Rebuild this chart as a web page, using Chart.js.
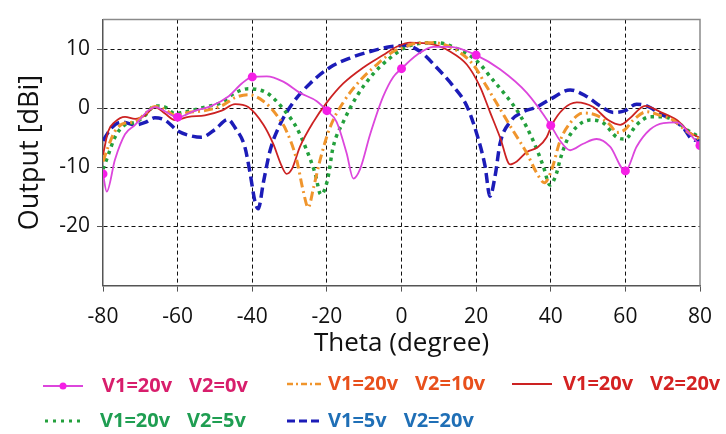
<!DOCTYPE html>
<html>
<head>
<meta charset="utf-8">
<script src="https://cdn.jsdelivr.net/npm/chart.js@4.4.1/dist/chart.umd.min.js"></script>
<style>
  html, body { margin: 0; padding: 0; background: #fff; }
</style>
</head>
<body>
<canvas id="chartPattern" width="726" height="434"></canvas>
<script>
/* Radiation pattern: output vs theta for several bias voltage pairs */

const xTicks = [-80, -60, -40, -20, 0, 20, 40, 60, 80];
const yTicks = [-20, -10, 0, 10];

// V1=20v V2=0v
const thetaA = [-80, -79, -76.8, -74.1, -71.4, -67.9, -66.1, -60, -55.3, -50.9, -46.4, -42.8, -40, -36.1, -31.7, -27.2, -22.7, -20, -17.4, -14.7, -12.9, -11.1, -8.4, -4.9, -2.2, 0, 4.1, 8.5, 13, 20, 26.4, 33.6, 40, 42.5, 45.2, 48.7, 52.3, 55.9, 60, 63, 66.6, 70.2, 73.8, 77.3, 80];
const outA   = [-11.1, -14.1, -8.7, -4.4, -2.8, -0.4, 0.2, -1.5, -0.4, 0.4, 2.0, 4.2, 5.3, 5.4, 4.5, 2.6, 1.2, -0.4, -2.3, -7.6, -11.9, -10.3, -4.4, 2.0, 5.3, 6.7, 9.0, 10.4, 10.4, 9.0, 6.6, 2.6, -2.9, -5.5, -7.1, -6.0, -5.2, -6.5, -10.6, -6.5, -3.6, -2.5, -2.4, -4.4, -6.3];

// V1=20v V2=10v
const thetaB = [-80, -78.6, -76.8, -74.1, -71.4, -68.7, -66.1, -63.4, -60.7, -57.1, -52.7, -48.2, -44.6, -41.1, -37, -33.4, -30.8, -28.1, -26.3, -25, -23.6, -21.8, -19.2, -15.6, -11.1, -6.6, -2.2, 1.4, 3.2, 8.5, 13.9, 19.2, 22.8, 26.4, 30, 33.6, 36.2, 38.3, 40.3, 42.5, 45.2, 48.7, 52.3, 55.9, 57.7, 59.9, 62.1, 65.7, 69.3, 72.8, 76.4, 80];
const outB   = [-9.0, -6.5, -3.9, -2.5, -2.3, -0.9, 0.3, -0.2, -1.2, -0.7, -0.4, 0.4, 1.8, 2.3, 1.2, -1.2, -3.9, -8.7, -14.1, -16.8, -13.5, -8.7, -3.3, 1.0, 4.7, 7.4, 9.6, 10.5, 10.9, 11.1, 10.1, 7.4, 3.7, -0.1, -3.9, -7.6, -10.9, -12.6, -10.3, -5.5, -2.5, -0.8, -1.2, -2.8, -4.1, -3.6, -2.0, -0.6, -1.2, -2.0, -3.9, -5.3];

// V1=20v V2=20v
const thetaC = [-80, -78.6, -76.8, -74.1, -71.4, -68.7, -66.1, -63.4, -60.7, -57.1, -52.7, -48.2, -44.6, -41.1, -37, -34.4, -32.1, -30.8, -29.4, -27.2, -23.6, -20, -15.6, -10.2, -4.9, -1.3, 2.3, 8.5, 13, 17.5, 21, 23.7, 26.4, 29.1, 30.9, 33.6, 36.5, 38.9, 40.3, 43.4, 47, 51.4, 55.4, 58.6, 61.2, 65.3, 69.3, 73.8, 77.3, 80];
const outC   = [-7.9, -3.9, -2.3, -1.45, -1.8, -1.2, 0.2, -0.9, -2.0, -1.45, -1.2, -0.4, 0.7, 0.2, -2.8, -6.0, -9.8, -11.1, -10.3, -6.5, -2.3, 1.0, 4.2, 6.9, 9.0, 10.4, 11.1, 10.8, 9.6, 7.4, 3.7, -0.6, -4.9, -9.5, -9.0, -7.4, -6.6, -4.9, -2.8, -0.1, 1.0, 0.2, -2.0, -2.8, -1.7, 0.4, -0.6, -2.0, -4.1, -5.0];

// V1=20v V2=5v
const thetaD = [-80, -78.6, -76.8, -74.1, -71.4, -68.7, -66.1, -63.4, -60.7, -57.1, -52.7, -48.2, -44.6, -41.1, -36.1, -31.7, -28.1, -25.4, -23.2, -21.6, -19.9, -18.3, -15.6, -12, -7.6, -3.1, 0.5, 4.1, 9.4, 14.8, 20.2, 24.6, 28.2, 31.8, 35.3, 38, 39.8, 41.6, 42.5, 44.3, 47, 50.5, 54.1, 57.7, 59.9, 63, 66.6, 70.2, 73.8, 76.4, 80];
const outD   = [-10.3, -7.9, -4.9, -2.8, -2.4, -1.2, 0.4, 0.2, -0.9, -0.5, 0.2, 1.0, 2.6, 3.3, 2.6, -0.1, -3.3, -7.1, -10.9, -14.6, -12.3, -6.5, -2.3, 2.0, 5.8, 8.5, 10.1, 10.9, 11.1, 10.1, 8.0, 4.7, 2.0, -1.2, -5.5, -9.8, -13.0, -10.9, -8.7, -5.5, -3.1, -2.0, -2.5, -4.9, -5.2, -2.8, -1.45, -1.45, -2.3, -3.6, -4.9];

// V1=5v V2=20v
const thetaE = [-80, -77.7, -75, -71.4, -68.7, -66.1, -63.4, -59.8, -56.2, -53.6, -50, -46.5, -44.6, -42, -40.6, -39.3, -38.4, -37, -35.2, -32.6, -29, -24.5, -19.2, -13.8, -8.4, -3.1, 1.4, 5, 9.4, 13.9, 17.5, 20.2, 22.4, 23.7, 25.1, 26.4, 29.1, 32.6, 36.2, 39.8, 45.2, 49.6, 53.2, 56.8, 59.9, 63, 65.7, 69.3, 72.8, 75.5, 77.8, 80];
const outE   = [-5.5, -3.3, -2.3, -2.8, -2.4, -1.6, -2.0, -3.9, -4.7, -4.9, -3.6, -1.9, -3.3, -6.5, -10.9, -15.7, -17.0, -12.5, -7.1, -2.8, 1.0, 4.2, 6.9, 8.5, 9.6, 10.4, 10.6, 9.6, 6.9, 3.7, 0.4, -4.4, -9.8, -14.9, -11.4, -6.0, -2.3, -0.6, 0.2, 1.5, 3.1, 2.0, 0.4, -0.7, -0.4, 0.7, 0.4, -0.9, -2.0, -3.3, -5.2, -5.5];

const seriesLabels = ['V1=20v  V2=0v', 'V1=20v  V2=10v', 'V1=20v  V2=20v', 'V1=20v  V2=5v', 'V1=5v  V2=20v'];

const pts = (xs, ys) => xs.map((x, i) => ({ x: x, y: ys[i] }));

Chart.defaults.font.family = "'Open Sans', sans-serif";
Chart.defaults.color = '#111';

// legend placement below the plot (two rows, aligned columns)
const legendSlots = [
  { x0: 43,  x1: 83,  y: 386, tx: 102, w: 2,   dash: [],          text: '#d81e6c', dot: true },
  { x0: 287, x1: 323, y: 384, tx: 328, w: 2.5, dash: [6, 3, 2, 3], text: '#e8501c' },
  { x0: 512, x1: 552, y: 384, tx: 563, w: 2,   dash: [],          text: '#d42222' },
  { x0: 45,  x1: 82,  y: 421, tx: 100, w: 3,   dash: [3, 5],      text: '#1f9e52' },
  { x0: 287, x1: 323, y: 421, tx: 328, w: 3,   dash: [8, 4],      text: '#1f6fb6' }
];

const legendPlugin = {
  id: 'seriesLegend',
  afterDraw(chart) {
    const ctx = chart.ctx;
    ctx.save();
    ctx.font = "bold 20px 'Open Sans', sans-serif";
    ctx.textBaseline = 'middle';
    legendSlots.forEach((s, i) => {
      const ds = chart.data.datasets[i];
      ctx.strokeStyle = ds.borderColor;
      ctx.lineWidth = s.w;
      ctx.setLineDash(s.dash);
      ctx.beginPath();
      ctx.moveTo(s.x0, s.y);
      ctx.lineTo(s.x1, s.y);
      ctx.stroke();
      if (s.dot) {
        ctx.fillStyle = ds.pointBackgroundColor;
        ctx.beginPath();
        ctx.arc((s.x0 + s.x1) / 2, s.y, 3.5, 0, Math.PI * 2);
        ctx.fill();
      }
      const parts = ds.label.split('  ');
      ctx.fillStyle = s.text;
      ctx.fillText(parts[0], s.tx, s.y);
      ctx.fillText(parts[1], s.tx + ctx.measureText(parts[0]).width + 17, s.y);
    });
    ctx.restore();
  }
};

// top and right edges of the plot box
const framePlugin = {
  id: 'plotFrame',
  afterDraw(chart) {
    const { ctx, chartArea: a } = chart;
    ctx.save();
    ctx.strokeStyle = '#8a8a8a';
    ctx.lineWidth = 1.5;
    ctx.beginPath();
    ctx.moveTo(a.left, a.top);
    ctx.lineTo(a.right, a.top);
    ctx.lineTo(a.right, a.bottom);
    ctx.stroke();
    ctx.restore();
  }
};

// no dashed grid line on the box edges
const xGridColor = c => (c.tick && Math.abs(c.tick.value) === 80 ? 'rgba(0,0,0,0)' : '#111');

new Chart(document.getElementById('chartPattern'), {
  type: 'line',
  data: {
    datasets: [
      {
        label: seriesLabels[0], data: pts(thetaA, outA),
        borderColor: '#dc46dc', borderWidth: 1.8,
        pointRadius: c => (c.raw && c.raw.x % 20 === 0 ? 4.5 : 0),
        pointBackgroundColor: '#f51fe6', pointBorderWidth: 0
      },
      {
        label: seriesLabels[1], data: pts(thetaB, outB),
        borderColor: '#f0952c', borderWidth: 3, borderDash: [9, 4, 2, 4], pointRadius: 0
      },
      {
        label: seriesLabels[2], data: pts(thetaC, outC),
        borderColor: '#cc2222', borderWidth: 1.8, pointRadius: 0
      },
      {
        label: seriesLabels[3], data: pts(thetaD, outD),
        borderColor: '#23a03c', borderWidth: 3.5, borderDash: [3.5, 4.5], pointRadius: 0
      },
      {
        label: seriesLabels[4], data: pts(thetaE, outE),
        borderColor: '#1c1cb8', borderWidth: 3.5, borderDash: [10, 5], pointRadius: 0
      }
    ]
  },
  options: {
    responsive: false,
    animation: false,
    cubicInterpolationMode: 'monotone',
    layout: { padding: { top: 9, right: 26, left: 0, bottom: 75 } },
    plugins: { legend: { display: false }, tooltip: { enabled: false } },
    scales: {
      x: {
        type: 'linear', min: -80, max: 80,
        afterBuildTicks: s => { s.ticks = xTicks.map(v => ({ value: v })); },
        ticks: { font: { size: 21 }, padding: 13, color: '#111' },
        grid: { color: xGridColor, tickLength: 6, tickColor: '#555', tickBorderDash: [] },
        border: { color: '#555', width: 1.5, dash: [4, 3] },
        title: { display: true, text: 'Theta (degree)', font: { size: 26 }, color: '#111', padding: { top: -15, bottom: 0 } }
      },
      y: {
        min: -30, max: 15,
        afterBuildTicks: s => { s.ticks = yTicks.map(v => ({ value: v })); },
        afterFit: s => { s.width = 103; },
        ticks: { font: { size: 21 }, padding: 7, color: '#111' },
        grid: { color: '#111', tickLength: 6, tickColor: '#555', tickBorderDash: [] },
        border: { color: '#555', width: 1.5, dash: [4, 3] },
        title: { display: true, text: 'Output [dBi]', font: { size: 27 }, color: '#111', padding: { top: 14, bottom: 0 } }
      }
    }
  },
  plugins: [framePlugin, legendPlugin]
});
</script>
</body>
</html>
